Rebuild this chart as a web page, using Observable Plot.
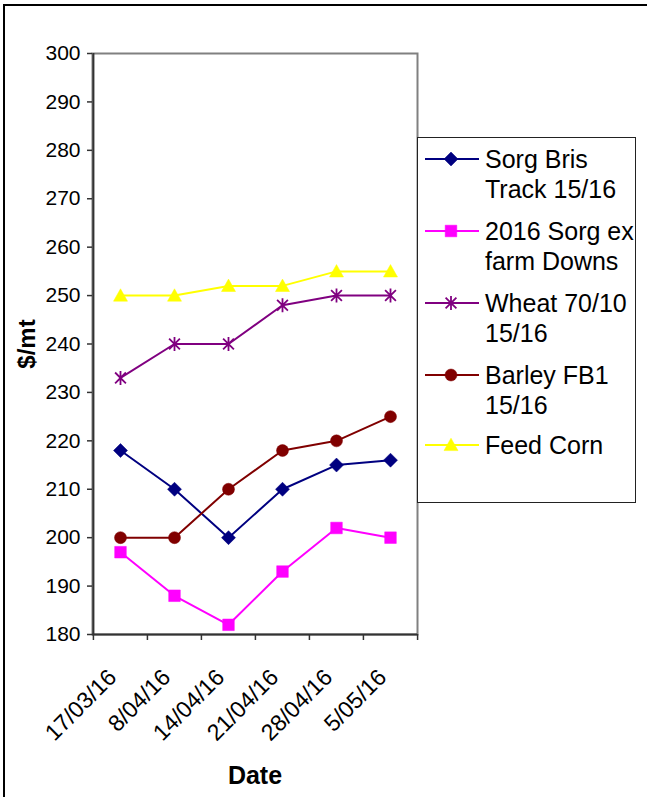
<!DOCTYPE html>
<html><head><meta charset="utf-8">
<script src="https://cdn.jsdelivr.net/npm/d3@7"></script>
<script src="https://cdn.jsdelivr.net/npm/@observablehq/plot@0.6"></script>
<style>
body{margin:0;background:#fff;font-family:"Liberation Sans",Arial,sans-serif;}
#wrap{position:relative;width:647px;height:797px;overflow:hidden;background:#fff;}
#wrap svg.main{position:absolute;left:0;top:0;}
#border{position:absolute;left:3px;top:4px;width:800px;height:900px;border-left:2px solid #000;border-top:2px solid #000;pointer-events:none;}
#legend{position:absolute;left:417px;top:137px;width:217px;height:364px;border:1px solid #222;background:#fff;}
</style></head><body><div id="wrap"></div>
<script>
// ---- data ----
const dates = ["17/03/16", "8/04/16", "14/04/16", "21/04/16", "28/04/16", "5/05/16"];
const seriesNames = ["Sorg Bris Track 15/16", "2016 Sorg ex farm Downs", "Wheat 70/10 15/16", "Barley FB1 15/16", "Feed Corn"];
const legendLines = [["Sorg Bris", "Track 15/16"], ["2016 Sorg ex", "farm Downs"], ["Wheat 70/10", "15/16"], ["Barley FB1", "15/16"], ["Feed Corn"]];
const sorgBris = [218, 210, 200, 210, 215, 216];
const sorg2016 = [197, 188, 182, 193, 202, 200];
const wheat = [233, 240, 240, 248, 250, 250];
const barley = [200, 200, 210, 218, 220, 225];
const feedCorn = [250, 250, 252, 252, 255, 255];
const yTicks = [180, 190, 200, 210, 220, 230, 240, 250, 260, 270, 280, 290, 300];
const colors = ["#000080", "#FF00FF", "#800080", "#800000", "#FFFF00"];
const yLabel = "$/mt";
const xLabel = "Date";

// ---- symbols ----
const diamond = {draw(c) { const r = 7; c.moveTo(0, -r); c.lineTo(r, 0); c.lineTo(0, r); c.lineTo(-r, 0); c.closePath(); }};
const square = {draw(c) { const r = 5.8; c.rect(-r, -r, 2 * r, 2 * r); }};
const star = {draw(c) { const r = 7, q = 5.4; c.moveTo(0, -r); c.lineTo(0, r); c.moveTo(-q, -q); c.lineTo(q, q); c.moveTo(-q, q); c.lineTo(q, -q); }};
const circle = {draw(c) { const r = 6; c.moveTo(r, 0); c.arc(0, 0, r, 0, 2 * Math.PI); }};
const triangle = {draw(c) { c.moveTo(0, -6.8); c.lineTo(7, 5.6); c.lineTo(-7, 5.6); c.closePath(); }};
const symbols = [diamond, square, star, circle, triangle];

const allSeries = [sorgBris, sorg2016, wheat, barley, feedCorn];
const rows = [];
allSeries.forEach((vals, i) => vals.forEach((v, j) => rows.push({series: seriesNames[i], idx: i, date: dates[j], value: v})));

const W = 647, H = 797, mL = 92, mR = 230, mT = 53, mB = 163;
const step = (W - mL - mR) / dates.length;

const marks = [
  Plot.frame({stroke: "#808080", strokeWidth: 2}),
  Plot.ruleY([180], {stroke: "#333", strokeWidth: 2}),
  Plot.ruleX([dates[0]], {dx: -step / 2, stroke: "#333", strokeWidth: 2}),
  Plot.axisY(yTicks, {tickSize: 5, tickPadding: 7, fontSize: 21, stroke: "#333", strokeWidth: 1.5, label: null}),
  Plot.axisX(dates, {tickSize: 6, tickFormat: () => "", dx: -step / 2, stroke: "#333", strokeWidth: 1.5, label: null}),
  Plot.axisX([dates[dates.length - 1]], {tickSize: 6, tickFormat: () => "", dx: step / 2, stroke: "#333", strokeWidth: 1.5, label: null}),
  Plot.text(dates, {x: d => d, frameAnchor: "bottom", dy: 39, dx: -8, rotate: -45, textAnchor: "end", lineAnchor: "middle", fontSize: 23}),
  Plot.text([xLabel], {frameAnchor: "bottom", dy: 141, textAnchor: "middle", lineAnchor: "middle", fontSize: 25, fontWeight: "bold"}),
  Plot.text([yLabel], {frameAnchor: "left", dx: -65, rotate: -90, textAnchor: "middle", lineAnchor: "middle", fontSize: 24, fontWeight: "bold"})
];
allSeries.forEach((vals, i) => {
  const data = rows.filter(r => r.idx === i);
  marks.push(Plot.line(data, {x: "date", y: "value", stroke: colors[i], strokeWidth: 2}));
  marks.push(Plot.dot(data, {x: "date", y: "value", symbol: symbols[i],
    fill: i === 2 ? "none" : colors[i], stroke: colors[i], strokeWidth: i === 2 ? 1.8 : 0.5}));
});

const chart = Plot.plot({
  width: W, height: H,
  marginLeft: mL, marginRight: mR, marginTop: mT, marginBottom: mB,
  style: {fontFamily: "Liberation Sans, Arial, sans-serif", fontSize: "20px", color: "#000", background: "transparent", overflow: "visible"},
  x: {type: "point", domain: dates, padding: 0.5, axis: null},
  y: {domain: [180, 300], axis: null},
  marks
});
chart.classList.add("main");
const wrap = document.getElementById("wrap");
wrap.appendChild(chart);
const border = document.createElement("div"); border.id = "border"; wrap.appendChild(border);

// ---- legend ----
const leg = document.createElement("div"); leg.id = "legend"; wrap.appendChild(leg);
const ls = d3.select(leg).append("svg").attr("width", 217).attr("height", 364)
  .style("font-family", "Liberation Sans, Arial, sans-serif").style("font-size", "25px");
const itemY = [21, 93, 165, 237, 307];
legendLines.forEach((lines, i) => {
  const g = ls.append("g").attr("transform", `translate(0,${itemY[i]})`);
  g.append("line").attr("x1", 7).attr("x2", 61).attr("y1", 0).attr("y2", 0).attr("stroke", colors[i]).attr("stroke-width", 2);
  g.append("path").attr("transform", "translate(33,0)").attr("d", d3.symbol(symbols[i])())
    .attr("fill", i === 2 ? "none" : colors[i]).attr("stroke", colors[i]).attr("stroke-width", i === 2 ? 1.8 : 0.5);
  lines.forEach((t, k) => g.append("text").attr("x", 67).attr("y", k * 30).attr("dy", "0.35em").text(t));
});
</script></body></html>
